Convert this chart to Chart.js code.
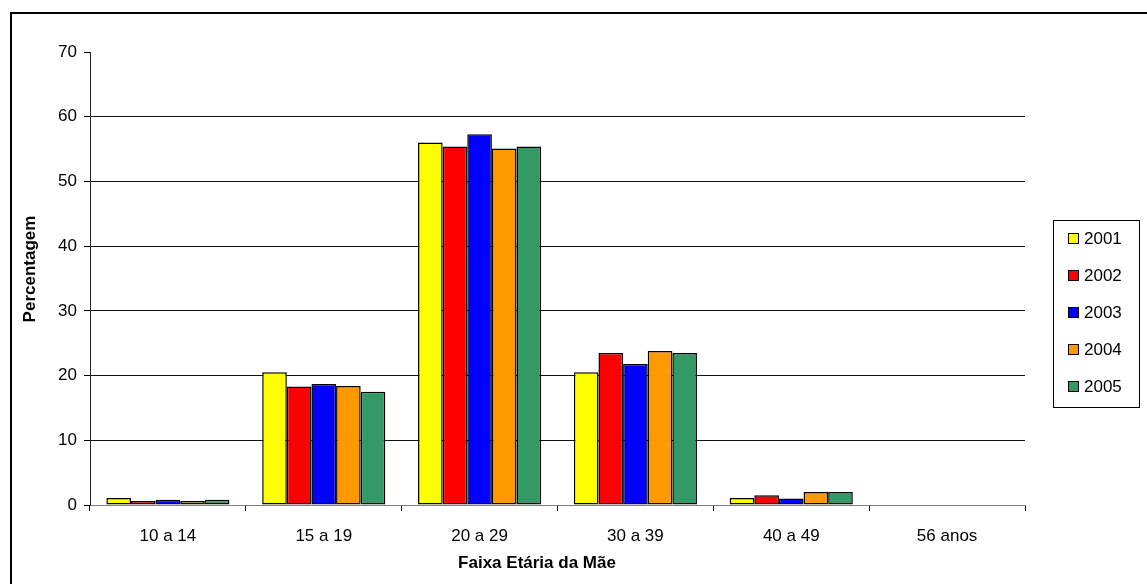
<!DOCTYPE html>
<html>
<head>
<meta charset="utf-8">
<script src="https://cdn.jsdelivr.net/npm/chart.js@4/dist/chart.umd.min.js"></script>
<style>
  html, body { margin: 0; padding: 0; background: #fff; }
  canvas { display: block; }
</style>
</head>
<body>
<canvas id="c" width="1147" height="584"></canvas>
<script>
// Age groups of the mother
const categories = ['10 a 14', '15 a 19', '20 a 29', '30 a 39', '40 a 49', '56 anos'];
const years = ['2001', '2002', '2003', '2004', '2005'];

// Percentage of births per age group, one array per year
const y2001 = [1.1, 20.5, 56.0, 20.5, 1.1, null];
const y2002 = [0.6, 18.3, 55.4, 23.5, 1.5, null];
const y2003 = [0.8, 18.7, 57.3, 21.8, 1.0, null];
const y2004 = [0.6, 18.4, 55.1, 23.8, 2.0, null];
const y2005 = [0.8, 17.5, 55.4, 23.5, 2.0, null];

const yTicks = [0, 10, 20, 30, 40, 50, 60, 70];

const xTitle = 'Faixa Etária da Mãe';
const yTitle = 'Percentagem';

const colors = ['#FFFF00', '#FF0000', '#0000FF', '#FF9900', '#339966'];
const series = [y2001, y2002, y2003, y2004, y2005];

const FONT = '"Liberation Sans", Arial, sans-serif';

// Frame around the figure, axis titles and the boxed legend on the right
const framePlugin = {
  id: 'frame',
  beforeDraw(chart) {
    const ctx = chart.ctx;
    ctx.save();
    ctx.fillStyle = '#fff';
    ctx.fillRect(0, 0, chart.width, chart.height);
    ctx.strokeStyle = '#000';
    ctx.lineWidth = 2;
    ctx.beginPath();
    ctx.moveTo(11, chart.height + 5);
    ctx.lineTo(11, 13);
    ctx.lineTo(chart.width + 5, 13);
    ctx.stroke();
    ctx.restore();
  },
  afterDraw(chart) {
    const ctx = chart.ctx;
    ctx.save();
    // axis titles
    ctx.fillStyle = '#000';
    ctx.font = 'bold 17px ' + FONT;
    ctx.textAlign = 'center';
    ctx.textBaseline = 'middle';
    ctx.fillText(xTitle, 537, 563);
    ctx.save();
    ctx.translate(30, 269);
    ctx.rotate(-Math.PI / 2);
    ctx.fillText(yTitle, 0, 0);
    ctx.restore();

    // legend
    const bx = 1053.5, by = 220.5, bw = 86, bh = 187;
    ctx.strokeStyle = '#000';
    ctx.lineWidth = 1;
    ctx.strokeRect(bx, by, bw, bh);
    ctx.font = '17px ' + FONT;
    ctx.textBaseline = 'middle';
    ctx.textAlign = 'left';
    chart.data.datasets.forEach((ds, i) => {
      const cy = 238 + i * 37;
      ctx.fillStyle = ds.backgroundColor;
      ctx.fillRect(1068, cy - 5, 10, 10);
      ctx.strokeStyle = '#000';
      ctx.strokeRect(1068.5, cy - 4.5, 10, 10);
      ctx.fillStyle = '#000';
      ctx.fillText(ds.label, 1084, cy + 1);
    });
    ctx.restore();
  }
};

new Chart(document.getElementById('c'), {
  type: 'bar',
  data: {
    labels: categories,
    datasets: years.map((yr, i) => ({
      label: yr,
      data: series[i],
      backgroundColor: colors[i],
      borderColor: '#000',
      borderWidth: 1.5,
      borderSkipped: false,
      categoryPercentage: 0.79,
      barPercentage: 1.0
    }))
  },
  options: {
    responsive: false,
    animation: false,
    devicePixelRatio: 1,
    layout: { padding: { left: 10, top: 52, right: 122, bottom: 0 } },
    plugins: {
      legend: { display: false },
      tooltip: { enabled: false }
    },
    scales: {
      x: {
        afterFit(scale) { scale.height = 79; },
        grid: {
          display: true,
          drawOnChartArea: false,
          offset: true,
          tickLength: 6,
          color: '#000',
          tickColor: '#000'
        },
        border: { display: true, color: '#808080', width: 1 },
        ticks: {
          padding: 15,
          color: '#000',
          font: { family: FONT, size: 17 }
        },
        title: { display: false }
      },
      y: {
        min: 0,
        max: 70,
        afterFit(scale) { scale.width = 80; },
        afterBuildTicks(scale) { scale.ticks = yTicks.map(v => ({ value: v })); },
        grid: {
          drawOnChartArea: true,
          tickLength: 6,
          color: ctx => (ctx.tick && (ctx.tick.value === 70 || ctx.tick.value === 0)) ? 'rgba(0,0,0,0)' : '#111',
          tickColor: '#000',
          lineWidth: 1
        },
        border: { display: true, color: '#222', width: 1 },
        ticks: {
          padding: 7,
          color: '#000',
          font: { family: FONT, size: 17 }
        },
        title: { display: false }
      }
    }
  },
  plugins: [framePlugin]
});
</script>
</body>
</html>
